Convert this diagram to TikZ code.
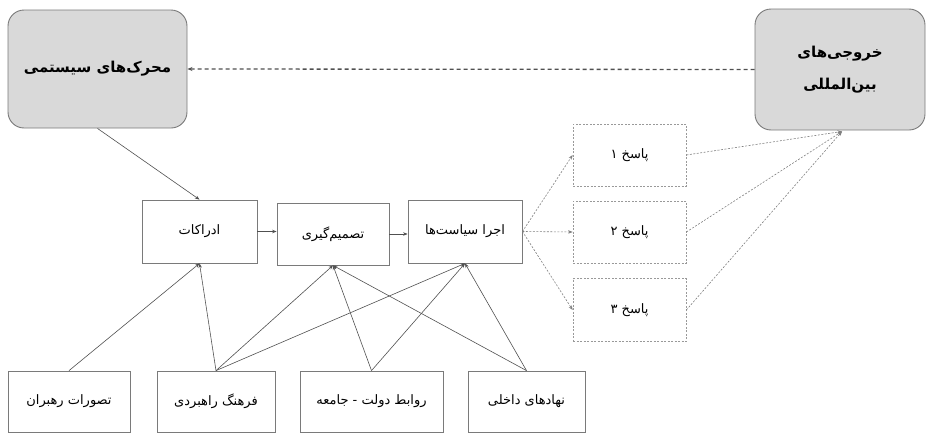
\documentclass[tikz,border=0pt]{standalone}
\usepackage{fontspec}
\usetikzlibrary{arrows.meta,calc}
\TeXXeTstate=1
\newfontfamily\fa[Script=Arabic]{DejaVu Sans}
\definecolor{boxfill}{HTML}{D9D9D9}
\definecolor{edge}{HTML}{7A7A7A}
\definecolor{linec}{HTML}{505050}
\tikzset{
  bigbox/.style={draw=edge, line width=0.9pt, fill=boxfill, rounded corners=16pt, align=center, font=\fa\bfseries\fontsize{15}{32}\selectfont},
  midbox/.style={draw=edge, line width=0.8pt, font=\fa\fontsize{13}{15}\selectfont, inner sep=0pt},
  respbox/.style={draw=gray!80, dashed, dash pattern=on 2pt off 1.5pt, line width=0.7pt, font=\fa\fontsize{13}{15}\selectfont, inner sep=0pt},
  link/.style={draw=linec, line width=0.6pt, -{Stealth[length=4.5pt,width=3.5pt]}},
  dlink/.style={draw=gray, line width=0.6pt, dash pattern=on 2pt off 1.5pt, -{Stealth[length=4.5pt,width=3.5pt]}},
  topdash/.style={draw=linec, line width=1.3pt, dash pattern=on 4pt off 3pt, -{Stealth[length=5pt,width=4pt]}}
}
\begin{document}
\begin{tikzpicture}[x=1pt,y=-1pt]
\useasboundingbox (0,0) rectangle (929,434);
% top boxes
\node[bigbox, minimum width=179pt, minimum height=118pt] (sys) at (97.5,69) {\beginR محرک‌های سیستمی\endR};
\node[bigbox, minimum width=170pt, minimum height=121pt] (out) at (840,69.5) {\beginR خروجی‌های\endR\\\beginR بین‌المللی\endR};
% middle row
\node[midbox, minimum width=115pt, minimum height=63pt] (per) at (199.5,231.5) {\beginR ادراکات\endR};
\node[midbox, minimum width=112pt, minimum height=62pt] (dec) at (333,234) {\beginR تصمیم‌گیری\endR};
\node[midbox, minimum width=114pt, minimum height=63pt] (imp) at (465,231.5) {\beginR اجرا سیاست‌ها\endR};
% responses
\node[respbox, minimum width=113pt, minimum height=62pt] (r1) at (629.5,155) {\beginR پاسخ ۱\endR};
\node[respbox, minimum width=113pt, minimum height=62pt] (r2) at (629.5,232) {\beginR پاسخ ۲\endR};
\node[respbox, minimum width=113pt, minimum height=63pt] (r3) at (629.5,310) {\beginR پاسخ ۳\endR};
% bottom row
\node[midbox, minimum width=122pt, minimum height=61pt] (b1) at (69,401.5) {\beginR تصورات رهبران\endR};
\node[midbox, minimum width=118pt, minimum height=61pt] (b2) at (216,401.5) {\beginR فرهنگ راهبردی\endR};
\node[midbox, minimum width=143pt, minimum height=61pt] (b3) at (371.5,401.5) {\beginR روابط دولت - جامعه\endR};
\node[midbox, minimum width=117pt, minimum height=61pt] (b4) at (526.5,401.5) {\beginR نهادهای داخلی\endR};
% connectors
\draw[topdash] (out.west) -- (sys.east);
\draw[link] (sys.south) -- (per.north);
\draw[link] (per.east) -- (per.east -| dec.west);
\draw[link] (dec.east) -- (dec.east -| imp.west);
\draw[link] (b1.north) -- (per.south);
\draw[link] (b2.north) -- (per.south);
\draw[link] (b2.north) -- (dec.south);
\draw[link] (b2.north) -- (imp.south);
\draw[link] (b3.north) -- (dec.south);
\draw[link] (b3.north) -- (imp.south);
\draw[link] (b4.north) -- (dec.south);
\draw[link] (b4.north) -- (imp.south);
\draw[dlink] (imp.east) -- (r1.west);
\draw[dlink] (imp.east) -- (r2.west);
\draw[dlink] (imp.east) -- (r3.west);
\coordinate (tgt) at ($(out.south)+(2,1)$);
\draw[dlink] (r1.east) -- (tgt);
\draw[dlink] (r2.east) -- (tgt);
\draw[dlink] (r3.east) -- (tgt);
\end{tikzpicture}
\end{document}
